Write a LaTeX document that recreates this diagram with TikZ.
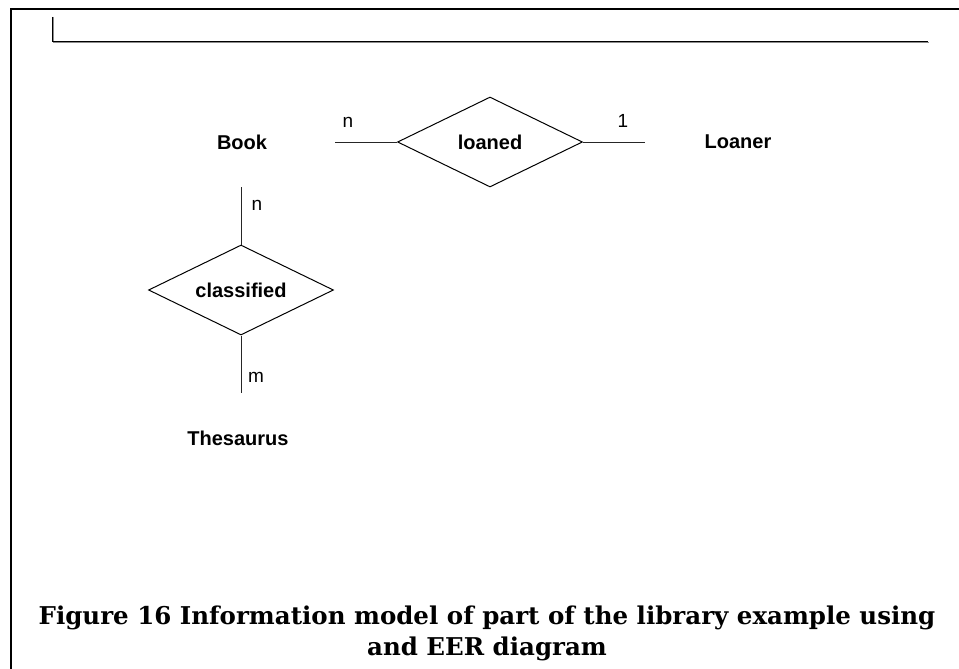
\documentclass[tikz,border=0pt]{standalone}
\usepackage{fontspec}
\usetikzlibrary{shapes.geometric}
\newfontfamily\erfont{Liberation Sans}
\newfontfamily\erbold{Liberation Sans}[UprightFont={* Bold}]
\newfontfamily\capfont{DejaVu Serif}[UprightFont={* Bold}]

\tikzset{
  entity/.style={font=\erbold\fontsize{20}{24}\selectfont, inner sep=0pt},
  relation/.style={diamond, draw=black, line width=1pt, aspect=2, inner sep=0pt,
    minimum width=185pt, minimum height=90pt,
    font=\erbold\fontsize{20}{24}\selectfont},
  link/.style={draw=black!85, line width=1pt},
  card/.style={font=\erfont\fontsize{19}{22}\selectfont, inner sep=0pt},
  frameline/.style={line width=2.2pt, black},
  rule/.style={line width=1pt},
  caption/.style={font=\capfont\fontsize{24.5}{31}\selectfont, align=center, inner sep=0pt}
}

\begin{document}
\begin{tikzpicture}[x=1pt, y=-1pt]
  \useasboundingbox (0,0) rectangle (959,669);
  \fill[white] (0,0) rectangle (959,669);

  % page frame
  \draw[frameline] (11,670) -- (11,9) -- (960,9);

  % header rule with its grey shadow
  \draw[rule, black!45] (53,17) -- (53,43) -- (929,43);
  \draw[rule, black] (52,17) -- (52,42) -- (928,42);

  % entities
  \node[entity] (book) at (242,142) {Book};
  \node[entity] (loaner) at (738,142) {Loaner};
  \node[entity] (thesaurus) at (238,438) {Thesaurus};

  % relationships
  \node[relation] (loaned) at (490,142) {loaned};
  \node[relation] (classified) at (241,290) {classified};

  % free ends of the connectors
  \coordinate (bookE) at (335,142);
  \coordinate (loanerW) at (645,142);
  \coordinate (bookS) at (241,187);
  \coordinate (thesN) at (241,393);

  \draw[link] (bookE) -- (loaned.west);
  \draw[link] (loaned.east) -- (loanerW);
  \draw[link] (bookS) -- (classified.north);
  \draw[link] (classified.south) -- (thesN);

  % cardinalities
  \node[card] (c1) at (348,122) {n};
  \node[card] (c2) at (623,121) {1};
  \node[card] (c3) at (257,205) {n};
  \node[card] (c4) at (256,377) {m};

  % caption
  \node[caption] (cap) at (487,633) {Figure 16 Information model of part of the library example using\\and EER diagram};
\end{tikzpicture}
\end{document}
